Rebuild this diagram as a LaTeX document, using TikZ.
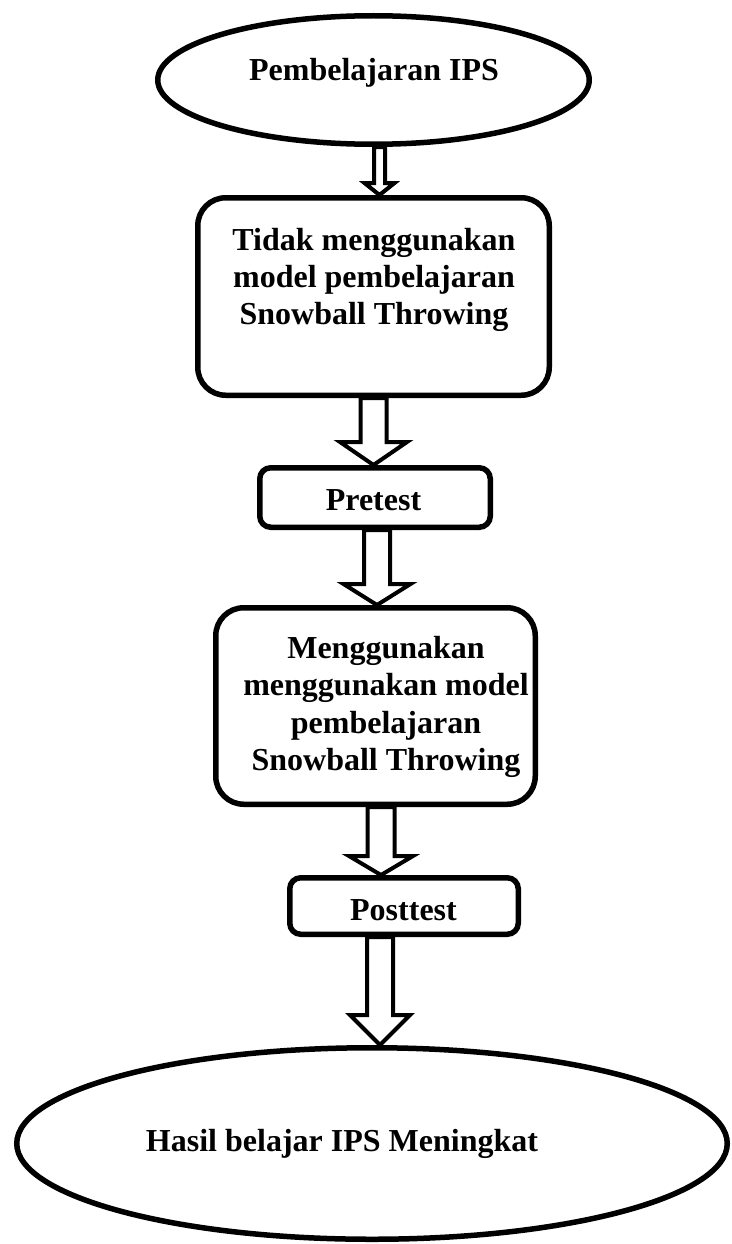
\documentclass[tikz,border=0pt]{standalone}
\usepackage{fontspec}
\setmainfont{Liberation Serif}
\usetikzlibrary{shapes.geometric,calc,backgrounds}
\tikzset{
  shapeline/.style={draw=black, line width=5.5pt, fill=white},
  oval/.style={shapeline, ellipse, inner sep=0pt},
  bigbox/.style={shapeline, rectangle, rounded corners=28pt, inner sep=0pt},
  smallbox/.style={shapeline, rectangle, rounded corners=11pt, inner sep=0pt},
  lbl/.style={font=\fontsize{32}{37}\selectfont\bfseries, anchor=base, inner sep=0pt},
  barrow/.style={draw=black, line width=4pt, fill=white, line join=miter},
}
% #1 from, #2 to, #3 x, #4 shaft half width, #5 head half width, #6 head length
\newcommand\blockarrow[6]{%
  \draw[barrow] let \p1=(#1), \p2=(#2) in
    (#3-#4,\y1) -- (#3-#4,\y2+#6) -- (#3-#5,\y2+#6) -- (#3,\y2)
    -- (#3+#5,\y2+#6) -- (#3+#4,\y2+#6) -- (#3+#4,\y1) -- cycle;}
\begin{document}
\begin{tikzpicture}[x=1pt,y=-1pt]
\useasboundingbox (0,0) rectangle (731,1244);

\node[oval, minimum width=431.5pt, minimum height=128.5pt] (e1) at (373.5,80) {};
\node[bigbox, minimum width=351.5pt, minimum height=197.5pt] (b1) at (373.5,296.5) {};
\node[smallbox, minimum width=230.5pt, minimum height=59.5pt] (p1) at (375,497.5) {};
\node[bigbox, minimum width=319.5pt, minimum height=196.5pt] (b2) at (375.5,706) {};
\node[smallbox, minimum width=228.5pt, minimum height=56.5pt] (p2) at (404,906) {};
\node[oval, minimum width=710.5pt, minimum height=191.5pt] (e2) at (372,1143.5) {};

\node[lbl] (t1) at (374,81) {Pembelajaran IPS};
\node[lbl] (b1a) at (374,250) {Tidak menggunakan};
\node[lbl] (b1b) at (374,287) {model pembelajaran};
\node[lbl] (b1c) at (374,324) {Snowball Throwing};
\node[lbl] (p1t) at (373.5,510) {Pretest};
\node[lbl] (b2a) at (386,658) {Menggunakan};
\node[lbl] (b2b) at (386,695.5) {menggunakan model};
\node[lbl] (b2c) at (386,733) {pembelajaran};
\node[lbl] (b2d) at (386,770.5) {Snowball Throwing};
\node[lbl] (p2t) at (403.5,920) {Posttest};
\node[lbl] (e2t) at (342,1151) {Hasil belajar IPS Meningkat};

\begin{scope}[on background layer]
  \blockarrow{e1.south}{b1.north}{379.5pt}{5.5pt}{15pt}{12pt}
  \blockarrow{b1.south}{p1.north}{373.5pt}{13pt}{33.5pt}{23pt}
  \blockarrow{p1.south}{b2.north}{377pt}{13pt}{33.5pt}{21pt}
  \blockarrow{b2.south}{p2.north}{381pt}{13.5pt}{32pt}{19pt}
  \blockarrow{p2.south}{e2.north}{380pt}{13pt}{30pt}{30pt}
\end{scope}
\end{tikzpicture}
\end{document}
